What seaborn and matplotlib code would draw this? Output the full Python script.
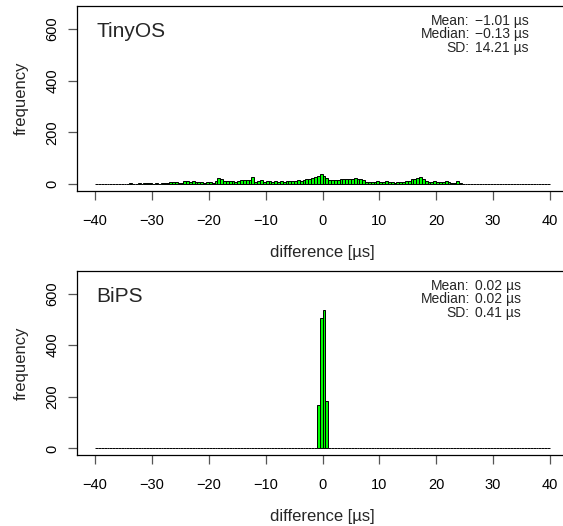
import numpy as np
import pandas as pd
import matplotlib
matplotlib.use("Agg")
import matplotlib.pyplot as plt
import seaborn as sns

# histogram bins: 0.5 us wide from -40 to 40
bin_edges = list(np.arange(-40, 40.5, 0.5))
bin_centers = [(a + b) / 2 for a, b in zip(bin_edges[:-1], bin_edges[1:])]

# TinyOS counts per bin
tinyos_counts = (
    [0, 1, 0, 1, 1, 0, 1, 2, 1, 1]
    + [1, 2, 3, 2, 2, 3, 2, 3, 4, 3]
    + [2, 3, 2, 4, 3, 5]
    + [8, 9, 7, 4, 6, 14, 12, 10, 12, 8, 7, 9, 5, 10, 8, 6]
    + [12, 22, 18, 12, 14, 11, 13, 8, 14, 15, 16, 16, 17, 28, 10, 12]
    + [15, 9, 11, 14, 10, 12, 9, 11, 10, 12, 13, 12, 13, 15, 14, 17]
    + [18, 21, 24, 28, 33, 39]
    + [30, 24, 17, 17, 17, 15, 18, 19, 19, 21, 20, 22, 20, 18, 17, 9]
    + [8, 10, 7, 12, 10, 8, 11, 7, 9, 6, 7, 10, 9, 12, 14, 18]
    + [21, 24, 26, 20, 12, 10, 8, 11, 9, 7, 10, 12, 8, 6, 5, 13]
    + [4, 2, 1, 2, 1, 2, 1, 1, 2, 1, 1, 2]
    + [1, 1, 0, 1, 0, 1, 1, 0, 0, 1]
    + [0, 1, 0, 0, 1, 0, 0, 0, 0, 1]
)

# BiPS counts: everything sits in a few bins around zero
bips_counts = [0] * 160
bips_counts[77] = 3     # [-1.5, -1.0)
bips_counts[78] = 168   # [-1.0, -0.5)
bips_counts[79] = 507   # [-0.5, 0.0)
bips_counts[80] = 538   # [0.0, 0.5)
bips_counts[81] = 183   # [0.5, 1.0)

panel_names = ["TinyOS", "BiPS"]
stat_labels = ["Mean:", "Median:", "SD:"]
tinyos_stats = ["\u22121.01 \u00b5s", "\u22120.13 \u00b5s", "14.21 \u00b5s"]
bips_stats = ["0.02 \u00b5s", "0.02 \u00b5s", "0.41 \u00b5s"]
x_ticks = [-40, -30, -20, -10, 0, 10, 20, 30, 40]
y_ticks = [0, 200, 400, 600]

sns.set_style("white")
plt.rcParams["font.family"] = ["Liberation Sans", "DejaVu Sans"]
plt.rcParams["axes.unicode_minus"] = True

fig = plt.figure(figsize=(5.63, 5.26), dpi=100)
W, H = 563, 526

def make_axes(top_px, bottom_px):
    return fig.add_axes([77 / W, 1 - bottom_px / H, (568 - 77) / W, (bottom_px - top_px) / H])

axes = [make_axes(6, 191), make_axes(270.7, 455.3)]
all_counts = [tinyos_counts, bips_counts]
all_stats = [tinyos_stats, bips_stats]

for ax, name, counts, stats in zip(axes, panel_names, all_counts, all_stats):
    df = pd.DataFrame({"difference": bin_centers, "count": counts})
    sns.histplot(data=df, x="difference", weights="count", bins=bin_edges, color="#00ff00",
                 edgecolor="black", linewidth=0.7, alpha=1, ax=ax)
    ax.set_xlim(-43.2, 43.2)
    ax.set_ylim(-26.5, 688.5)
    ax.set_xticks(x_ticks)
    ax.set_xticklabels([str(t).replace("-", "\u2212") for t in x_ticks])
    ax.set_yticks(y_ticks)
    ax.set_yticklabels([str(t) for t in y_ticks], rotation=90, va="center")
    ax.tick_params(axis="both", direction="out", length=6.5, width=0.9, color="#555555",
                   labelsize=10.5, labelcolor="black", bottom=True, left=True)
    ax.tick_params(axis="x", pad=10)
    ax.tick_params(axis="y", pad=6)
    for sp in ax.spines.values():
        sp.set_color("black")
        sp.set_linewidth(0.9)
    ax.set_xlabel("difference [\u00b5s]", fontsize=12, labelpad=12)
    ax.set_ylabel("frequency", fontsize=12, labelpad=12)
    ax.text(0.04, 0.86, name, transform=ax.transAxes, fontsize=15, ha="left", va="center")
    # stats block: labels right-aligned, values left-aligned
    ax.text(0.800, 0.846, "\n".join(stat_labels), transform=ax.transAxes, fontsize=10,
            ha="right", va="center", multialignment="right", linespacing=0.95)
    ax.text(0.810, 0.846, "\n".join(stats), transform=ax.transAxes, fontsize=10,
            ha="left", va="center", multialignment="left", linespacing=0.95)

fig.savefig("out.png", dpi=100)
